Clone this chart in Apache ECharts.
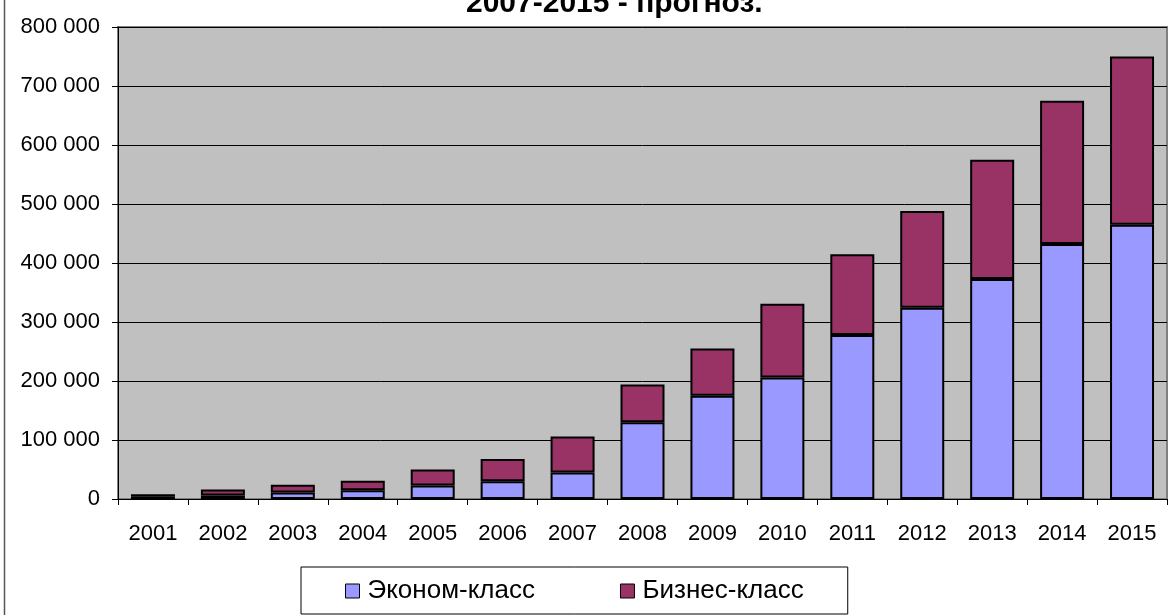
<!DOCTYPE html>
<html>
<head>
<meta charset="utf-8">
<title>Эконом-класс / Бизнес-класс</title>
<script src="https://cdn.jsdelivr.net/npm/echarts@6/dist/echarts.min.js"></script>
<style>
  html, body { margin: 0; padding: 0; background: #fff; }
  #chart { width: 1168px; height: 615px; }
</style>
</head>
<body>
<div id="chart"></div>
<script>
// данные
const years = ['2001', '2002', '2003', '2004', '2005', '2006', '2007', '2008',
               '2009', '2010', '2011', '2012', '2013', '2014', '2015'];
const economy = [4000, 6000, 11000, 15000, 23000, 30000, 45000, 130000,
                 175000, 206000, 278000, 324000, 373000, 432000, 465000];
const business = [4000, 10000, 13000, 16000, 27000, 38000, 61000, 64000,
                  80000, 125000, 137000, 164000, 202000, 243000, 285000];
const seriesNames = ['Эконом-класс', 'Бизнес-класс'];
const titleText = '2007-2015 - прогноз.';

const FONT = '"Liberation Sans", Arial, sans-serif';

function fmtThousands(v) {
    return String(v).replace(/\B(?=(\d{3})+(?!\d))/g, ' ');
}

const chart = echarts.init(document.getElementById('chart'));

const option = {
    backgroundColor: '#fff',
    animation: false,
    textStyle: { fontFamily: FONT },
    title: {
        text: titleText,
        left: 466,
        top: -11,
        padding: 0,
        textStyle: { fontFamily: FONT, fontSize: 30, fontWeight: 'bold', color: '#000' }
    },
    graphic: [{
        type: 'rect',
        silent: true,
        z: -10,
        shape: { x: 4.5, y: -20, width: 2000, height: 2000 },
        style: { fill: 'none', stroke: '#555', lineWidth: 1.5 }
    }],
    legend: {
        data: seriesNames,
        left: 301,
        top: 567,
        padding: [10, 44, 9, 44],
        itemGap: 85,
        itemWidth: 14,
        itemHeight: 14,
        borderColor: '#000',
        borderWidth: 1,
        icon: 'rect',
        itemStyle: { borderColor: '#000', borderWidth: 1 },
        textStyle: { fontFamily: FONT, fontSize: 26, color: '#000', lineHeight: 28, padding: [0, 0, 0, 3] }
    },
    grid: {
        left: 118,
        right: 1,
        top: 27,
        bottom: 116,
        show: true,
        backgroundColor: '#C0C0C0',
        borderColor: '#808080',
        borderWidth: 2
    },
    xAxis: {
        type: 'category',
        data: years,
        axisLine: { lineStyle: { color: '#000', width: 1 } },
        axisTick: { show: true, length: 6, lineStyle: { color: '#000' } },
        axisLabel: { fontFamily: FONT, fontSize: 22, color: '#000', margin: 24 }
    },
    yAxis: {
        type: 'value',
        min: 0,
        max: 800000,
        interval: 100000,
        axisLine: { show: true, lineStyle: { color: '#000', width: 1 } },
        axisTick: { show: true, length: 6, lineStyle: { color: '#000' } },
        axisLabel: { fontFamily: FONT, fontSize: 22, color: '#000', margin: 18, formatter: fmtThousands },
        splitLine: { show: true, lineStyle: { color: '#000', width: 1 } }
    },
    series: [
        {
            name: seriesNames[0], type: 'bar', stack: 'total', data: economy, barWidth: 44,
            itemStyle: { color: '#9999FF', borderColor: '#000', borderWidth: 2 }
        },
        {
            name: seriesNames[1], type: 'bar', stack: 'total', data: business, barWidth: 44,
            itemStyle: { color: '#993366', borderColor: '#000', borderWidth: 2 }
        }
    ]
};

chart.setOption(option);
</script>
</body>
</html>
